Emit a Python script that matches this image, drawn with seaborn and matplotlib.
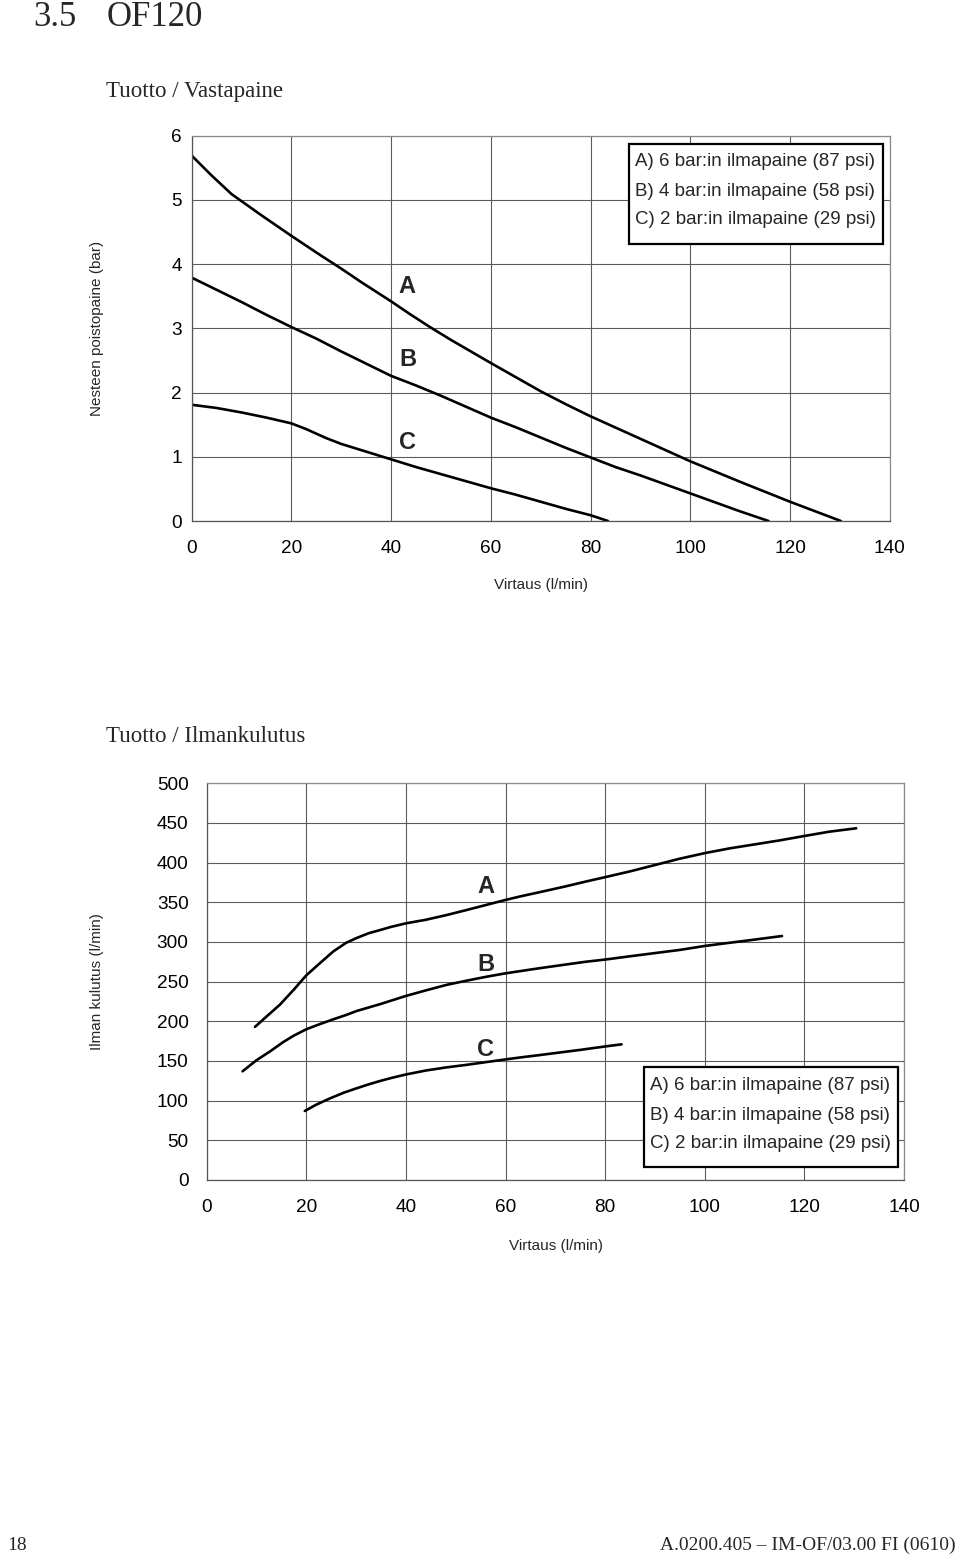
import numpy as np
import pandas as pd
import matplotlib
matplotlib.use("Agg")
import matplotlib.pyplot as plt
import seaborn as sns
from matplotlib.patches import Rectangle

# ---------------- data ----------------
series_names = ["A", "B", "C"]
legend_lines = ["A) 6 bar:in ilmapaine (87 psi)",
                "B) 4 bar:in ilmapaine (58 psi)",
                "C) 2 bar:in ilmapaine (29 psi)"]

# Chart 1: Tuotto / Vastapaine (flow l/min vs discharge pressure bar)
p_a_flow = [0, 4, 8, 14, 20, 26, 30, 34, 40, 44, 48, 52, 56, 60, 65, 70, 75, 80, 85, 90, 95, 100, 110, 120, 130.2]
p_a_val = [5.69, 5.38, 5.09, 4.76, 4.44, 4.13, 3.93, 3.72, 3.42, 3.21, 3.01, 2.82, 2.64, 2.46, 2.24, 2.02, 1.82, 1.63, 1.455, 1.28, 1.105, 0.93, 0.61, 0.30, 0.0]
p_b_flow = [0, 5, 10, 15, 20, 25, 30, 35, 40, 45, 50, 55, 60, 65, 70, 75, 80, 85, 90, 95, 100, 105, 110, 115.7]
p_b_val = [3.79, 3.60, 3.41, 3.21, 3.02, 2.84, 2.64, 2.45, 2.26, 2.11, 1.95, 1.78, 1.61, 1.46, 1.30, 1.14, 0.99, 0.84, 0.71, 0.57, 0.43, 0.29, 0.15, 0.0]
p_c_flow = [0, 5, 10, 15, 20, 23, 27, 30, 35, 40, 45, 50, 55, 60, 65, 70, 75, 80, 83.5]
p_c_val = [1.81, 1.76, 1.69, 1.61, 1.52, 1.43, 1.29, 1.20, 1.08, 0.96, 0.84, 0.73, 0.62, 0.51, 0.41, 0.30, 0.19, 0.09, 0.0]

# Chart 2: Tuotto / Ilmankulutus (flow l/min vs air consumption l/min)
a_a_flow = [9.7, 12, 14.7, 17.5, 20, 22.5, 25.4, 28, 30.1, 32.5, 34.8, 37, 40, 44, 48.2, 52, 56, 60, 63, 67, 72, 76, 80.2, 85, 90, 95, 100, 105, 110, 115, 120, 125, 130.4]
a_a_val = [193, 206, 221, 240, 258, 272, 288, 299, 305, 311, 315, 319, 323.5, 328, 334, 340, 346.5, 353, 357.5, 363, 370, 376, 382, 389, 397, 405, 412, 418, 423, 428, 433.6, 439, 443.3]
a_b_flow = [7.2, 10, 12.7, 15.4, 17.5, 20, 22.5, 25.4, 28, 30.1, 35, 40, 44, 48.2, 52, 56, 60, 66.9, 72, 76, 80.2, 85, 90, 95, 100, 105, 110, 115.5]
a_b_val = [137, 151, 162, 174, 182, 190, 196, 202.5, 208, 213, 222, 232, 239, 246, 251, 256, 260.5, 267, 271.5, 275, 278, 282, 286, 290, 295, 299, 303, 307.5]
a_c_flow = [19.7, 22, 24.8, 27.5, 30.1, 32.5, 34.8, 37, 40, 44, 48.2, 52, 56, 60, 63, 66.9, 70, 75, 80.2, 83.3]
a_c_val = [87, 95, 103, 110, 115.6, 120.5, 124.8, 128.5, 133, 138, 142, 145, 148.5, 152, 154.5, 157.5, 160, 164, 168.5, 171]

x_ticks = [0, 20, 40, 60, 80, 100, 120, 140]
y1_ticks = [0, 1, 2, 3, 4, 5, 6]
y2_ticks = [0, 50, 100, 150, 200, 250, 300, 350, 400, 450, 500]


def long_df(flows, vals):
    frames = []
    for name, f, v in zip(series_names, flows, vals):
        frames.append(pd.DataFrame({"flow": f, "value": v, "series": name}))
    return pd.concat(frames, ignore_index=True)


df1 = long_df([p_a_flow, p_b_flow, p_c_flow], [p_a_val, p_b_val, p_c_val])
df2 = long_df([a_a_flow, a_b_flow, a_c_flow], [a_a_val, a_b_val, a_c_val])

# ---------------- style ----------------
sns.set_style("white")
plt.rcParams["font.family"] = ["Liberation Sans", "DejaVu Sans"]
SERIF = ["Liberation Serif", "DejaVu Serif"]

W, H = 960, 1559
fig = plt.figure(figsize=(W / 100, H / 100), dpi=100)


def fx(x):
    return x / W


def fy(y):
    return 1 - y / H


def axes_px(l, t, r, b):
    return fig.add_axes([fx(l), fy(b), (r - l) / W, (b - t) / H])


GRID = "#5c5c5c"


def style_axes(ax, yticks, ylen, ylim):
    ax.set_xlim(0, 140)
    ax.set_ylim(*ylim)
    ax.set_xticks(x_ticks)
    ax.set_yticks(yticks)
    ax.grid(True, color=GRID, linewidth=0.8)
    ax.set_axisbelow(True)
    for s in ax.spines.values():
        s.set_color("#8a8a8a")
        s.set_linewidth(0.9)
    ax.spines["left"].set_color("#555555")
    ax.spines["bottom"].set_color("#555555")
    ax.tick_params(axis="x", direction="out", length=5, width=0.8, color=GRID,
                   pad=9, labelsize=13.7, labelcolor="black")
    ax.tick_params(axis="y", direction="out", length=ylen, width=0.8, color=GRID,
                   pad=5, labelsize=13.7, labelcolor="black")
    ax.set_xlabel("")
    ax.set_ylabel("")


palette = {"A": "black", "B": "black", "C": "black"}

# ---------------- chart 1 ----------------
ax1 = axes_px(191.7, 135.7, 889.7, 521)
sns.lineplot(data=df1, x="flow", y="value", hue="series", palette=palette,
             estimator=None, sort=False, linewidth=1.9, legend=False, ax=ax1)
style_axes(ax1, y1_ticks, 2, (0, 6))

for lab, (lx, ly) in zip(series_names, [(43.1, 3.65), (43.3, 2.52), (43.3, 1.22)]):
    ax1.text(lx, ly, lab, fontsize=17, fontweight="bold", ha="center", va="center")

fig.text(fx(541), fy(585), "Virtaus (l/min)", fontsize=11, ha="center", va="center")
fig.text(fx(97), fy(328.5), "Nesteen poistopaine (bar)", fontsize=11, rotation=90,
         ha="center", va="center")

# legend box chart 1
fig.patches.append(Rectangle((fx(629), fy(244)), (883 - 629) / W, 100 / H,
                             transform=fig.transFigure, fill=True, facecolor="white",
                             edgecolor="black", linewidth=1.6, zorder=5))
for t, yy in zip(legend_lines, [162, 191, 220]):
    fig.text(fx(635), fy(yy), t, fontsize=13.5, ha="left", va="center", zorder=6)

# ---------------- chart 2 ----------------
ax2 = axes_px(206.7, 783.3, 904, 1180)
sns.lineplot(data=df2, x="flow", y="value", hue="series", palette=palette,
             estimator=None, sort=False, linewidth=1.9, legend=False, ax=ax2)
style_axes(ax2, y2_ticks, 7, (0, 500))
ax2.tick_params(axis="y", pad=6)

for lab, (lx, ly) in zip(series_names, [(56.0, 369.7), (56.0, 271), (56.0, 164.7)]):
    ax2.text(lx, ly, lab, fontsize=17, fontweight="bold", ha="center", va="center")

fig.text(fx(556), fy(1246), "Virtaus (l/min)", fontsize=11, ha="center", va="center")
fig.text(fx(97), fy(981.5), "Ilman kulutus (l/min)", fontsize=11, rotation=90,
         ha="center", va="center")

fig.patches.append(Rectangle((fx(644), fy(1167.3)), (897.7 - 644) / W, 100 / H,
                             transform=fig.transFigure, fill=True, facecolor="white",
                             edgecolor="black", linewidth=1.6, zorder=5))
for t, yy in zip(legend_lines, [1085.7, 1115, 1143.3]):
    fig.text(fx(650), fy(yy), t, fontsize=13.5, ha="left", va="center", zorder=6)

# ---------------- page texts ----------------
fig.text(fx(33), fy(26), "3.5", family=SERIF, fontsize=25, ha="left", va="baseline")
fig.text(fx(107), fy(26), "OF120", family=SERIF, fontsize=25, ha="left", va="baseline")
fig.text(fx(106), fy(96.5), "Tuotto / Vastapaine", family=SERIF, fontsize=16.5,
         ha="left", va="baseline")
fig.text(fx(106), fy(742), "Tuotto / Ilmankulutus", family=SERIF, fontsize=16.5,
         ha="left", va="baseline")
fig.text(fx(7), fy(1550), "18", family=SERIF, fontsize=14, ha="left", va="baseline")
fig.text(fx(956), fy(1550), "A.0200.405 \u2013 IM-OF/03.00 FI (0610)", family=SERIF,
         fontsize=14, ha="right", va="baseline")

fig.savefig("out.png", dpi=100)
